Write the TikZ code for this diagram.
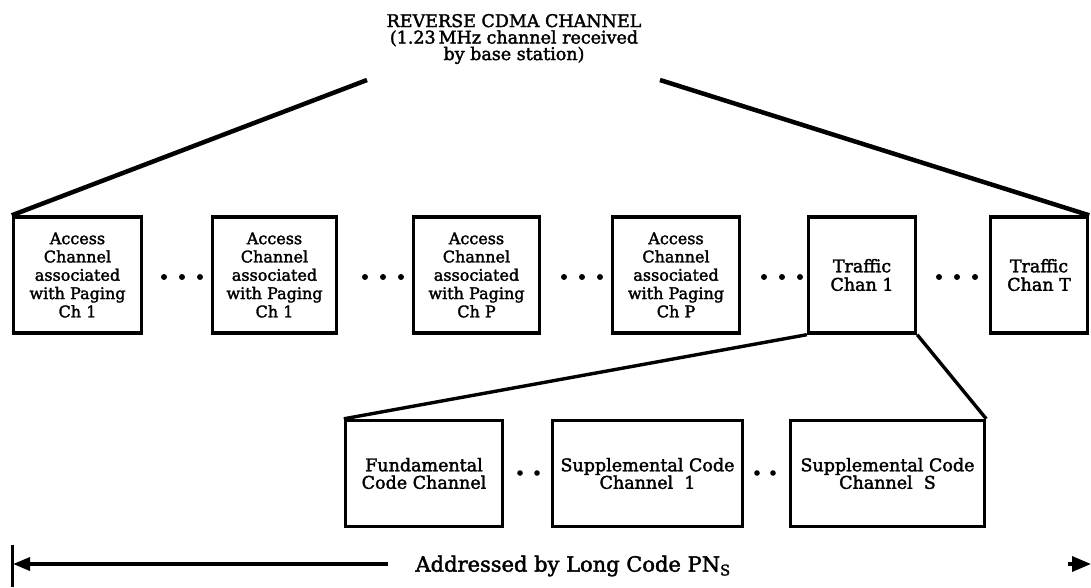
\documentclass[tikz,border=0pt]{standalone}
\usepackage{fontspec}
\setmainfont{DejaVu Serif}[FakeBold=2]
\usetikzlibrary{arrows.meta}
\tikzset{
  box/.style={draw, line width=3.4pt, inner sep=0pt, align=center, font=\fontsize{16}{18.3}\selectfont},
  trafficbox/.style={box, font=\fontsize{17.5}{18.5}\selectfont},
  lowbox/.style={draw, line width=3.4pt, inner sep=0pt, align=center, font=\fontsize{17.5}{17.5}\selectfont, minimum height=106pt},
  fan/.style={line width=4.5pt},
  fanlow/.style={line width=3.4pt},
  dotfill/.style={fill=black},
  pnarrow/.style={line width=3.4pt, -{Triangle[length=17pt,width=13pt]}},
  endarrow/.style={line width=3.4pt, -{Triangle[length=19pt,width=15pt]}},
}
\begin{document}
\begin{tikzpicture}[x=1pt,y=-1pt]
\useasboundingbox (0,0) rectangle (1091,587);
% title
\node[align=center, font=\fontsize{17.5}{16.5}\selectfont] (title) at (514,39)
  {REVERSE CDMA CHANNEL\\(1.23\,MHz channel received\\by base station)};
\coordinate (apexL) at (367,80);
\coordinate (apexR) at (660,80);
% top row
\node[box, minimum width=128pt, minimum height=116pt] (b1) at (77.5,275) {Access\\Channel\\associated\\with Paging\\Ch 1};
\node[box, minimum width=124pt, minimum height=116pt] (b2) at (274.5,275) {Access\\Channel\\associated\\with Paging\\Ch 1};
\node[box, minimum width=126pt, minimum height=116pt] (b3) at (476.5,275) {Access\\Channel\\associated\\with Paging\\Ch P};
\node[box, minimum width=127pt, minimum height=116pt] (b4) at (676,275) {Access\\Channel\\associated\\with Paging\\Ch P};
\node[trafficbox, minimum width=107pt, minimum height=116pt] (b5) at (862,275) {Traffic\\Chan 1};
\node[trafficbox, minimum width=97pt, minimum height=116pt] (b6) at (1039,275) {Traffic\\Chan T};
\draw[fan] (b1.north west) -- (apexL);
\draw[fan] (apexR) -- (b6.north east);
% dots top row
\foreach \cx in {182,383,582,782,957}{
  \fill[dotfill] (\cx-18,277) circle (3pt) (\cx,277) circle (3pt) (\cx+18,277) circle (3pt);
}
% bottom row
\node[lowbox, minimum width=157pt] (f) at (424,473.5) {Fundamental\\Code Channel};
\node[lowbox, minimum width=190pt] (s1) at (647.5,473.5) {Supplemental Code\\Channel\ \ 1};
\node[lowbox, minimum width=194pt] (sS) at (887.5,473.5) {Supplemental Code\\Channel\ \ S};
\draw[fanlow] (b5.south west) -- (f.north west);
\draw[fanlow] (b5.south east) -- (sS.north east);
\foreach \cx in {520,537,757,773}{
  \fill[dotfill] (\cx,473) circle (2.8pt);
}
% addressed arrow
\coordinate (barT) at (12,545);
\coordinate (barB) at (12,587);
\coordinate (lineL) at (13,564);
\coordinate (lineR) at (388,564);
\coordinate (rtail) at (1068,564);
\coordinate (rtip) at (1091,564);
\draw[line width=3pt] (barT) -- (barB);
\draw[pnarrow] (lineR) -- (lineL);
\draw[endarrow] (rtail) -- (rtip);
\node[font=\fontsize{21}{22}\selectfont, anchor=west] (lbl) at (412,566) {Addressed by Long Code PN\textsubscript{S}};
\end{tikzpicture}
\end{document}
